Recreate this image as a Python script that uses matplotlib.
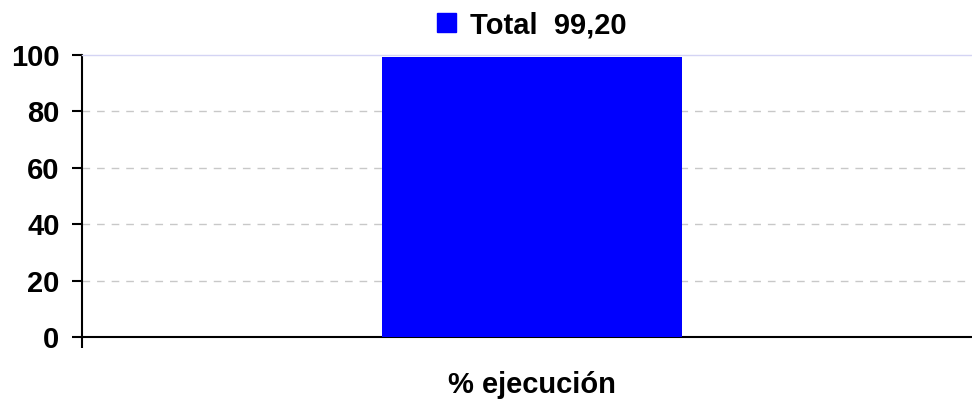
import matplotlib
matplotlib.use("Agg")
import matplotlib.pyplot as plt
from matplotlib.patches import Patch

# data
categories = ["% ejecución"]
series_name = "Total"
values = [99.20]
y_ticks = [0, 20, 40, 60, 80, 100]

BLUE = "#0000ff"

plt.rcParams["font.family"] = ["Liberation Sans", "DejaVu Sans"]
plt.rcParams["font.weight"] = "bold"

fig = plt.figure(figsize=(9.72, 3.99), dpi=100)
ax = fig.add_axes([82 / 972, 62 / 399, 890 / 972, 282 / 399])

ax.bar(range(len(values)), values, width=1.0, color=BLUE, zorder=3)
ax.set_xlim(-1.5, 1.467)
ax.set_ylim(0, 100)

ax.set_yticks(y_ticks)
ax.set_yticklabels([str(t) for t in y_ticks], fontsize=21, fontweight="bold")
ax.tick_params(axis="y", direction="out", length=7.2, width=1.5, pad=9)

# single category boundary tick at the left edge
ax.set_xticks([-1.5])
ax.set_xticklabels([""])
ax.tick_params(axis="x", direction="out", length=8, width=1.5)

# category label sits under the bar centre
fig.text(532 / 972, 1 - 393 / 399, categories[0], ha="center", va="baseline",
         fontsize=21, fontweight="bold")

for y in y_ticks[1:-1]:
    ax.axhline(y, color="#c8c8c8", lw=1, linestyle=(0, (5.5, 5)), zorder=1)

ax.spines["right"].set_visible(False)
ax.spines["top"].set_color("#d4d4f4")
ax.spines["top"].set_linewidth(1)
ax.spines["left"].set_linewidth(1.5)
ax.spines["bottom"].set_linewidth(1.5)

label = "{}  {:.2f}".format(series_name, values[0]).replace(".", ",")
fig.legend(handles=[Patch(color=BLUE)], labels=[label], loc="center",
           bbox_to_anchor=(532 / 972, 1 - 25 / 399), frameon=False,
           handlelength=0.65, handleheight=0.65, handletextpad=0.5,
           prop={"size": 21, "weight": "bold"})

fig.savefig("out.png", dpi=100)
